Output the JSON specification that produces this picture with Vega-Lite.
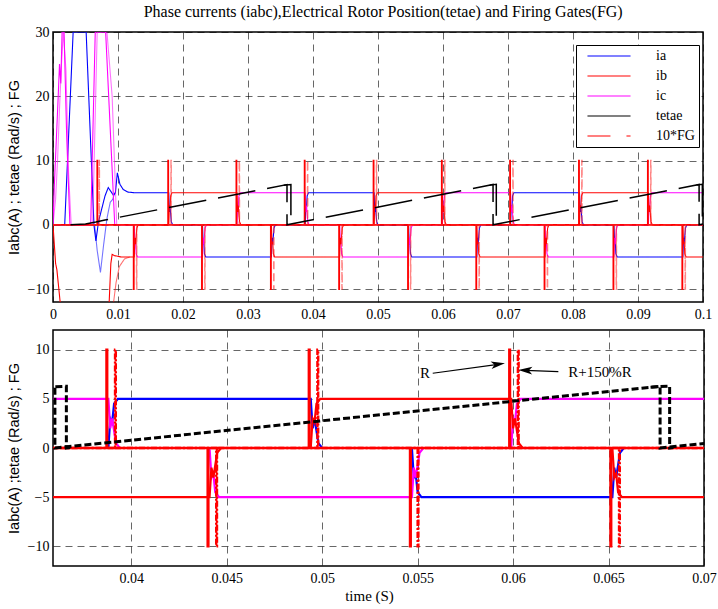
{
"$schema": "https://vega.github.io/schema/vega-lite/v6.json",
"padding": {"left": 5, "top": 4, "right": 2, "bottom": 2},
"title": {"text": "Phase currents (iabc),Electrical Rotor Position(tetae) and Firing Gates(FG)", "font": "Liberation Serif", "fontSize": 16, "fontWeight": "normal", "color": "#000", "anchor": "middle", "offset": 4, "dx": 22},
"config": {
  "view": {"stroke": "#000", "strokeWidth": 1.5},
  "axis": {"grid": true, "gridColor": "#000", "gridDash": [7, 5], "gridWidth": 0.8, "gridOpacity": 0.75, "domain": false, "ticks": false, "labelFont": "Liberation Serif", "labelFontSize": 14, "labelColor": "#000", "labelPadding": 5, "labelFlush": false, "labelOverlap": false, "titleFont": "Liberation Sans", "titleFontSize": 14.5, "titleFontWeight": "normal", "titleColor": "#000"}
},
"datasets": {
"cur": [
{"s":"ia","m":1,"t":0,"v":0},{"s":"ia","m":1,"t":0.0018,"v":0},{"s":"ia","m":1,"t":0.0031,"v":30},{"s":"ia","m":1,"t":0.0051,"v":30},{"s":"ia","m":1,"t":0.0063,"v":0},{"s":"ia","m":1,"t":0.0066,"v":-2.5},{"s":"ia","m":1,"t":0.007,"v":0.5},{"s":"ia","m":1,"t":0.0075,"v":2.5},{"s":"ia","m":1,"t":0.008,"v":4.5},{"s":"ia","m":1,"t":0.0085,"v":5.8},{"s":"ia","m":1,"t":0.0089,"v":5.2},{"s":"ia","m":1,"t":0.0093,"v":4.6},{"s":"ia","m":1,"t":0.0096,"v":5},{"s":"ia","m":1,"t":0.0099,"v":8.1},{"s":"ia","m":1,"t":0.0103,"v":6.3},{"s":"ia","m":1,"t":0.0108,"v":5.5},{"s":"ia","m":1,"t":0.0115,"v":5.1},{"s":"ia","m":1,"t":0.0125,"v":5},
{"s":"ia","m":1,"t":0.0178,"v":5},{"s":"ia","m":1,"t":0.0179,"v":2},{"s":"ia","m":1,"t":0.018,"v":3},{"s":"ia","m":1,"t":0.0182,"v":0.5},{"s":"ia","m":1,"t":0.0184,"v":0},
{"s":"ia","m":1,"t":0.023,"v":0},{"s":"ia","m":1,"t":0.0231,"v":-3},{"s":"ia","m":1,"t":0.0232,"v":-2.6},{"s":"ia","m":1,"t":0.0233,"v":-4.5},{"s":"ia","m":1,"t":0.0235,"v":-5},
{"s":"ia","m":1,"t":0.0336,"v":-5},{"s":"ia","m":1,"t":0.0337,"v":-2},{"s":"ia","m":1,"t":0.0338,"v":-3},{"s":"ia","m":1,"t":0.034,"v":-0.5},{"s":"ia","m":1,"t":0.0342,"v":0},
{"s":"ia","m":1,"t":0.0388,"v":0},{"s":"ia","m":1,"t":0.0389,"v":3},{"s":"ia","m":1,"t":0.039,"v":2.6},{"s":"ia","m":1,"t":0.0391,"v":4.5},{"s":"ia","m":1,"t":0.0393,"v":5},
{"s":"ia","m":1,"t":0.0494,"v":5},{"s":"ia","m":1,"t":0.0495,"v":2},{"s":"ia","m":1,"t":0.0496,"v":3},{"s":"ia","m":1,"t":0.0498,"v":0.5},{"s":"ia","m":1,"t":0.05,"v":0},
{"s":"ia","m":1,"t":0.0547,"v":0},{"s":"ia","m":1,"t":0.0548,"v":-3},{"s":"ia","m":1,"t":0.0549,"v":-2.6},{"s":"ia","m":1,"t":0.055,"v":-4.5},{"s":"ia","m":1,"t":0.0552,"v":-5},
{"s":"ia","m":1,"t":0.0652,"v":-5},{"s":"ia","m":1,"t":0.0653,"v":-2},{"s":"ia","m":1,"t":0.0654,"v":-3},{"s":"ia","m":1,"t":0.0656,"v":-0.5},{"s":"ia","m":1,"t":0.0658,"v":0},
{"s":"ia","m":1,"t":0.0704,"v":0},{"s":"ia","m":1,"t":0.0705,"v":3},{"s":"ia","m":1,"t":0.0706,"v":2.6},{"s":"ia","m":1,"t":0.0707,"v":4.5},{"s":"ia","m":1,"t":0.0709,"v":5},
{"s":"ia","m":1,"t":0.081,"v":5},{"s":"ia","m":1,"t":0.0811,"v":2},{"s":"ia","m":1,"t":0.0812,"v":3},{"s":"ia","m":1,"t":0.0814,"v":0.5},{"s":"ia","m":1,"t":0.0816,"v":0},
{"s":"ia","m":1,"t":0.0863,"v":0},{"s":"ia","m":1,"t":0.0864,"v":-3},{"s":"ia","m":1,"t":0.0865,"v":-2.6},{"s":"ia","m":1,"t":0.0866,"v":-4.5},{"s":"ia","m":1,"t":0.0868,"v":-5},
{"s":"ia","m":1,"t":0.0969,"v":-5},{"s":"ia","m":1,"t":0.097,"v":-2},{"s":"ia","m":1,"t":0.0971,"v":-3},{"s":"ia","m":1,"t":0.0973,"v":-0.5},{"s":"ia","m":1,"t":0.0975,"v":0},
{"s":"ia","m":1,"t":0.1,"v":0},
{"s":"ia","m":2,"t":0.0064,"v":0},{"s":"ia","m":2,"t":0.0068,"v":-4},{"s":"ia","m":2,"t":0.0073,"v":-7.4},{"s":"ia","m":2,"t":0.0078,"v":-3},{"s":"ia","m":2,"t":0.0083,"v":1},{"s":"ia","m":2,"t":0.0088,"v":3.5},{"s":"ia","m":2,"t":0.0092,"v":4},{"s":"ia","m":2,"t":0.0095,"v":5},
{"s":"ic","m":1,"t":0,"v":0},{"s":"ic","m":1,"t":0.0002,"v":6},{"s":"ic","m":1,"t":0.0005,"v":13},{"s":"ic","m":1,"t":0.0008,"v":20},{"s":"ic","m":1,"t":0.001,"v":25},{"s":"ic","m":1,"t":0.0012,"v":22},{"s":"ic","m":1,"t":0.0014,"v":30},{"s":"ic","m":1,"t":0.0017,"v":30},{"s":"ic","m":1,"t":0.0021,"v":14},{"s":"ic","m":1,"t":0.0026,"v":0},{"s":"ic","m":1,"t":0.0058,"v":0},{"s":"ic","m":1,"t":0.0065,"v":30},{"s":"ic","m":1,"t":0.0081,"v":30},{"s":"ic","m":1,"t":0.0095,"v":0},
{"s":"ic","m":1,"t":0.0125,"v":0},{"s":"ic","m":1,"t":0.0126,"v":-3},{"s":"ic","m":1,"t":0.0127,"v":-2.6},{"s":"ic","m":1,"t":0.0128,"v":-4.5},{"s":"ic","m":1,"t":0.013,"v":-5},
{"s":"ic","m":1,"t":0.023,"v":-5},{"s":"ic","m":1,"t":0.0231,"v":-2},{"s":"ic","m":1,"t":0.0232,"v":-3},{"s":"ic","m":1,"t":0.0234,"v":-0.5},{"s":"ic","m":1,"t":0.0236,"v":0},
{"s":"ic","m":1,"t":0.0283,"v":0},{"s":"ic","m":1,"t":0.0284,"v":3},{"s":"ic","m":1,"t":0.0285,"v":2.6},{"s":"ic","m":1,"t":0.0286,"v":4.5},{"s":"ic","m":1,"t":0.0288,"v":5},
{"s":"ic","m":1,"t":0.0388,"v":5},{"s":"ic","m":1,"t":0.0389,"v":2},{"s":"ic","m":1,"t":0.039,"v":3},{"s":"ic","m":1,"t":0.0392,"v":0.5},{"s":"ic","m":1,"t":0.0394,"v":0},
{"s":"ic","m":1,"t":0.0441,"v":0},{"s":"ic","m":1,"t":0.0442,"v":-3},{"s":"ic","m":1,"t":0.0443,"v":-2.6},{"s":"ic","m":1,"t":0.0444,"v":-4.5},{"s":"ic","m":1,"t":0.0446,"v":-5},
{"s":"ic","m":1,"t":0.0547,"v":-5},{"s":"ic","m":1,"t":0.0548,"v":-2},{"s":"ic","m":1,"t":0.0549,"v":-3},{"s":"ic","m":1,"t":0.0551,"v":-0.5},{"s":"ic","m":1,"t":0.0553,"v":0},
{"s":"ic","m":1,"t":0.0599,"v":0},{"s":"ic","m":1,"t":0.06,"v":3},{"s":"ic","m":1,"t":0.0601,"v":2.6},{"s":"ic","m":1,"t":0.0602,"v":4.5},{"s":"ic","m":1,"t":0.0604,"v":5},
{"s":"ic","m":1,"t":0.0704,"v":5},{"s":"ic","m":1,"t":0.0705,"v":2},{"s":"ic","m":1,"t":0.0706,"v":3},{"s":"ic","m":1,"t":0.0708,"v":0.5},{"s":"ic","m":1,"t":0.071,"v":0},
{"s":"ic","m":1,"t":0.0757,"v":0},{"s":"ic","m":1,"t":0.0758,"v":-3},{"s":"ic","m":1,"t":0.0759,"v":-2.6},{"s":"ic","m":1,"t":0.076,"v":-4.5},{"s":"ic","m":1,"t":0.0762,"v":-5},
{"s":"ic","m":1,"t":0.0863,"v":-5},{"s":"ic","m":1,"t":0.0864,"v":-2},{"s":"ic","m":1,"t":0.0865,"v":-3},{"s":"ic","m":1,"t":0.0867,"v":-0.5},{"s":"ic","m":1,"t":0.0869,"v":0},
{"s":"ic","m":1,"t":0.0916,"v":0},{"s":"ic","m":1,"t":0.0917,"v":3},{"s":"ic","m":1,"t":0.0918,"v":2.6},{"s":"ic","m":1,"t":0.0919,"v":4.5},{"s":"ic","m":1,"t":0.0921,"v":5},
{"s":"ic","m":1,"t":0.1,"v":5},
{"s":"ic","m":2,"t":0,"v":0},{"s":"ic","m":2,"t":0.0004,"v":4},{"s":"ic","m":2,"t":0.0007,"v":10},{"s":"ic","m":2,"t":0.001,"v":18},{"s":"ic","m":2,"t":0.0013,"v":25},{"s":"ic","m":2,"t":0.0016,"v":30},{"s":"ic","m":2,"t":0.002,"v":24},{"s":"ic","m":2,"t":0.0024,"v":8},{"s":"ic","m":2,"t":0.0028,"v":0},{"s":"ic","m":2,"t":0.0061,"v":0},{"s":"ic","m":2,"t":0.0068,"v":30},{"s":"ic","m":2,"t":0.0083,"v":30},{"s":"ic","m":2,"t":0.0091,"v":20},{"s":"ic","m":2,"t":0.0098,"v":0},
{"s":"ib","m":1,"t":0,"v":0},{"s":"ib","m":1,"t":0.0002,"v":-3},{"s":"ib","m":1,"t":0.0004,"v":-6},{"s":"ib","m":1,"t":0.0006,"v":-7},{"s":"ib","m":1,"t":0.0009,"v":-10},{"s":"ib","m":1,"t":0.0012,"v":-13},{"s":"ib","m":1,"t":0.0086,"v":-13},{"s":"ib","m":1,"t":0.0089,"v":-6},{"s":"ib","m":1,"t":0.0091,"v":-4.6},{"s":"ib","m":1,"t":0.0095,"v":-4.8},{"s":"ib","m":1,"t":0.0105,"v":-5},
{"s":"ib","m":1,"t":0.0125,"v":-5},{"s":"ib","m":1,"t":0.0126,"v":-2},{"s":"ib","m":1,"t":0.0127,"v":-3},{"s":"ib","m":1,"t":0.0129,"v":-0.5},{"s":"ib","m":1,"t":0.0131,"v":0},
{"s":"ib","m":1,"t":0.0178,"v":0},{"s":"ib","m":1,"t":0.0179,"v":3},{"s":"ib","m":1,"t":0.018,"v":2.6},{"s":"ib","m":1,"t":0.0181,"v":4.5},{"s":"ib","m":1,"t":0.0183,"v":5},
{"s":"ib","m":1,"t":0.0283,"v":5},{"s":"ib","m":1,"t":0.0284,"v":2},{"s":"ib","m":1,"t":0.0285,"v":3},{"s":"ib","m":1,"t":0.0287,"v":0.5},{"s":"ib","m":1,"t":0.0289,"v":0},
{"s":"ib","m":1,"t":0.0336,"v":0},{"s":"ib","m":1,"t":0.0337,"v":-3},{"s":"ib","m":1,"t":0.0338,"v":-2.6},{"s":"ib","m":1,"t":0.0339,"v":-4.5},{"s":"ib","m":1,"t":0.0341,"v":-5},
{"s":"ib","m":1,"t":0.0441,"v":-5},{"s":"ib","m":1,"t":0.0442,"v":-2},{"s":"ib","m":1,"t":0.0443,"v":-3},{"s":"ib","m":1,"t":0.0445,"v":-0.5},{"s":"ib","m":1,"t":0.0447,"v":0},
{"s":"ib","m":1,"t":0.0494,"v":0},{"s":"ib","m":1,"t":0.0495,"v":3},{"s":"ib","m":1,"t":0.0496,"v":2.6},{"s":"ib","m":1,"t":0.0497,"v":4.5},{"s":"ib","m":1,"t":0.0499,"v":5},
{"s":"ib","m":1,"t":0.0599,"v":5},{"s":"ib","m":1,"t":0.06,"v":2},{"s":"ib","m":1,"t":0.0601,"v":3},{"s":"ib","m":1,"t":0.0603,"v":0.5},{"s":"ib","m":1,"t":0.0605,"v":0},
{"s":"ib","m":1,"t":0.0652,"v":0},{"s":"ib","m":1,"t":0.0653,"v":-3},{"s":"ib","m":1,"t":0.0654,"v":-2.6},{"s":"ib","m":1,"t":0.0655,"v":-4.5},{"s":"ib","m":1,"t":0.0657,"v":-5},
{"s":"ib","m":1,"t":0.0757,"v":-5},{"s":"ib","m":1,"t":0.0758,"v":-2},{"s":"ib","m":1,"t":0.0759,"v":-3},{"s":"ib","m":1,"t":0.0761,"v":-0.5},{"s":"ib","m":1,"t":0.0763,"v":0},
{"s":"ib","m":1,"t":0.081,"v":0},{"s":"ib","m":1,"t":0.0811,"v":3},{"s":"ib","m":1,"t":0.0812,"v":2.6},{"s":"ib","m":1,"t":0.0813,"v":4.5},{"s":"ib","m":1,"t":0.0815,"v":5},
{"s":"ib","m":1,"t":0.0916,"v":5},{"s":"ib","m":1,"t":0.0917,"v":2},{"s":"ib","m":1,"t":0.0918,"v":3},{"s":"ib","m":1,"t":0.092,"v":0.5},{"s":"ib","m":1,"t":0.0922,"v":0},
{"s":"ib","m":1,"t":0.0969,"v":0},{"s":"ib","m":1,"t":0.097,"v":-3},{"s":"ib","m":1,"t":0.0971,"v":-2.6},{"s":"ib","m":1,"t":0.0972,"v":-4.5},{"s":"ib","m":1,"t":0.0974,"v":-5},
{"s":"ib","m":1,"t":0.1,"v":-5},
{"s":"ib","m":2,"t":0.0092,"v":-13},{"s":"ib","m":2,"t":0.0097,"v":-9},{"s":"ib","m":2,"t":0.0102,"v":-6.5},{"s":"ib","m":2,"t":0.011,"v":-5.3},{"s":"ib","m":2,"t":0.0118,"v":-5}
],
"fg": [
{"m":1,"t":0,"v":0},
{"m":1,"t":0.0068,"v":0},{"m":1,"t":0.0068,"v":10},{"m":1,"t":0.00684,"v":10},{"m":1,"t":0.00684,"v":0},
{"m":1,"t":0.0124,"v":0},{"m":1,"t":0.0124,"v":-10},{"m":1,"t":0.01244,"v":-10},{"m":1,"t":0.01244,"v":0},
{"m":1,"t":0.0177,"v":0},{"m":1,"t":0.0177,"v":10},{"m":1,"t":0.01774,"v":10},{"m":1,"t":0.01774,"v":0},
{"m":1,"t":0.0229,"v":0},{"m":1,"t":0.0229,"v":-10},{"m":1,"t":0.02294,"v":-10},{"m":1,"t":0.02294,"v":0},
{"m":1,"t":0.0282,"v":0},{"m":1,"t":0.0282,"v":10},{"m":1,"t":0.02824,"v":10},{"m":1,"t":0.02824,"v":0},
{"m":1,"t":0.0335,"v":0},{"m":1,"t":0.0335,"v":-10},{"m":1,"t":0.03354,"v":-10},{"m":1,"t":0.03354,"v":0},
{"m":1,"t":0.0387,"v":0},{"m":1,"t":0.0387,"v":10},{"m":1,"t":0.03874,"v":10},{"m":1,"t":0.03874,"v":0},
{"m":1,"t":0.044,"v":0},{"m":1,"t":0.044,"v":-10},{"m":1,"t":0.04404,"v":-10},{"m":1,"t":0.04404,"v":0},
{"m":1,"t":0.0493,"v":0},{"m":1,"t":0.0493,"v":10},{"m":1,"t":0.04934,"v":10},{"m":1,"t":0.04934,"v":0},
{"m":1,"t":0.0546,"v":0},{"m":1,"t":0.0546,"v":-10},{"m":1,"t":0.05464,"v":-10},{"m":1,"t":0.05464,"v":0},
{"m":1,"t":0.0598,"v":0},{"m":1,"t":0.0598,"v":10},{"m":1,"t":0.05984,"v":10},{"m":1,"t":0.05984,"v":0},
{"m":1,"t":0.0651,"v":0},{"m":1,"t":0.0651,"v":-10},{"m":1,"t":0.06514,"v":-10},{"m":1,"t":0.06514,"v":0},
{"m":1,"t":0.0703,"v":0},{"m":1,"t":0.0703,"v":10},{"m":1,"t":0.07034,"v":10},{"m":1,"t":0.07034,"v":0},
{"m":1,"t":0.0756,"v":0},{"m":1,"t":0.0756,"v":-10},{"m":1,"t":0.07564,"v":-10},{"m":1,"t":0.07564,"v":0},
{"m":1,"t":0.0809,"v":0},{"m":1,"t":0.0809,"v":10},{"m":1,"t":0.08094,"v":10},{"m":1,"t":0.08094,"v":0},
{"m":1,"t":0.0862,"v":0},{"m":1,"t":0.0862,"v":-10},{"m":1,"t":0.08624,"v":-10},{"m":1,"t":0.08624,"v":0},
{"m":1,"t":0.0915,"v":0},{"m":1,"t":0.0915,"v":10},{"m":1,"t":0.09154,"v":10},{"m":1,"t":0.09154,"v":0},
{"m":1,"t":0.0968,"v":0},{"m":1,"t":0.0968,"v":-10},{"m":1,"t":0.09684,"v":-10},{"m":1,"t":0.09684,"v":0},
{"m":1,"t":0.1,"v":0},
{"m":2,"t":0,"v":0},
{"m":2,"t":0.0071,"v":0},{"m":2,"t":0.0071,"v":10},{"m":2,"t":0.00714,"v":10},{"m":2,"t":0.00714,"v":0},
{"m":2,"t":0.01285,"v":0},{"m":2,"t":0.01285,"v":-10},{"m":2,"t":0.01289,"v":-10},{"m":2,"t":0.01289,"v":0},
{"m":2,"t":0.01815,"v":0},{"m":2,"t":0.01815,"v":10},{"m":2,"t":0.01819,"v":10},{"m":2,"t":0.01819,"v":0},
{"m":2,"t":0.02335,"v":0},{"m":2,"t":0.02335,"v":-10},{"m":2,"t":0.02339,"v":-10},{"m":2,"t":0.02339,"v":0},
{"m":2,"t":0.02865,"v":0},{"m":2,"t":0.02865,"v":10},{"m":2,"t":0.02869,"v":10},{"m":2,"t":0.02869,"v":0},
{"m":2,"t":0.03395,"v":0},{"m":2,"t":0.03395,"v":-10},{"m":2,"t":0.03399,"v":-10},{"m":2,"t":0.03399,"v":0},
{"m":2,"t":0.03915,"v":0},{"m":2,"t":0.03915,"v":10},{"m":2,"t":0.03919,"v":10},{"m":2,"t":0.03919,"v":0},
{"m":2,"t":0.04445,"v":0},{"m":2,"t":0.04445,"v":-10},{"m":2,"t":0.04449,"v":-10},{"m":2,"t":0.04449,"v":0},
{"m":2,"t":0.04975,"v":0},{"m":2,"t":0.04975,"v":10},{"m":2,"t":0.04979,"v":10},{"m":2,"t":0.04979,"v":0},
{"m":2,"t":0.055,"v":0},{"m":2,"t":0.055,"v":-10},{"m":2,"t":0.05504,"v":-10},{"m":2,"t":0.05504,"v":0},
{"m":2,"t":0.06025,"v":0},{"m":2,"t":0.06025,"v":10},{"m":2,"t":0.06029,"v":10},{"m":2,"t":0.06029,"v":0},
{"m":2,"t":0.06555,"v":0},{"m":2,"t":0.06555,"v":-10},{"m":2,"t":0.06559,"v":-10},{"m":2,"t":0.06559,"v":0},
{"m":2,"t":0.07075,"v":0},{"m":2,"t":0.07075,"v":10},{"m":2,"t":0.07079,"v":10},{"m":2,"t":0.07079,"v":0},
{"m":2,"t":0.07605,"v":0},{"m":2,"t":0.07605,"v":-10},{"m":2,"t":0.07609,"v":-10},{"m":2,"t":0.07609,"v":0},
{"m":2,"t":0.08135,"v":0},{"m":2,"t":0.08135,"v":10},{"m":2,"t":0.08139,"v":10},{"m":2,"t":0.08139,"v":0},
{"m":2,"t":0.08665,"v":0},{"m":2,"t":0.08665,"v":-10},{"m":2,"t":0.08669,"v":-10},{"m":2,"t":0.08669,"v":0},
{"m":2,"t":0.09195,"v":0},{"m":2,"t":0.09195,"v":10},{"m":2,"t":0.09199,"v":10},{"m":2,"t":0.09199,"v":0},
{"m":2,"t":0.09725,"v":0},{"m":2,"t":0.09725,"v":-10},{"m":2,"t":0.09729,"v":-10},{"m":2,"t":0.09729,"v":0},
{"m":2,"t":0.1,"v":0}
],
"tet": [
{"n":1,"t":0.0027,"v":0},{"n":1,"t":0.005,"v":0.15},{"n":1,"t":0.0066,"v":0.45},{"n":1,"t":0.008,"v":0.75},{"n":1,"t":0.0091,"v":0.97},{"n":1,"t":0.036,"v":6.26},{"n":1,"t":0.036,"v":0},{"n":1,"t":0.0677,"v":6.28},{"n":1,"t":0.0677,"v":0},{"n":1,"t":0.0994,"v":6.28},{"n":1,"t":0.0994,"v":0},{"n":1,"t":0.1,"v":0.12},
{"n":2,"t":0.0355,"v":6.16},{"n":2,"t":0.0366,"v":6.28},{"n":2,"t":0.0366,"v":0},{"n":2,"t":0.0368,"v":0.04},
{"n":3,"t":0.0672,"v":6.18},{"n":3,"t":0.0682,"v":6.3},{"n":3,"t":0.0682,"v":0},{"n":3,"t":0.0684,"v":0.04},
{"n":4,"t":0.099,"v":6.2},{"n":4,"t":0.0999,"v":6.3},{"n":4,"t":0.0999,"v":0},{"n":4,"t":0.1,"v":0.02}
],
"ann": [{"label":"R","t":0.05539,"v":7.58},{"label":"R+150%R","t":0.06455,"v":7.73}],
"arr": [{"id":1,"t":0.05579,"v":7.6,"t2":0.05921,"v2":8.51},{"id":2,"t":0.06237,"v":7.76,"t2":0.06064,"v2":7.9}]
},
"spacing": 7,
"resolve": {"scale": {"color": "independent", "strokeDash": "independent", "opacity": "independent", "strokeWidth": "independent"}},
"vconcat": [
{
"width": 650, "height": 270,
"encoding": {
  "x": {"field": "t", "type": "quantitative", "scale": {"domain": [0, 0.1], "nice": false, "zero": false}, "axis": {"values": [0,0.01,0.02,0.03,0.04,0.05,0.06,0.07,0.08,0.09,0.1], "format": "~g", "title": null}},
  "y": {"field": "v", "type": "quantitative", "scale": {"domain": [-12, 30], "nice": false}, "axis": {"values": [-10,0,10,20,30], "title": "Iabc(A) ; tetae (Rad/s) ; FG", "titlePadding": 6, "labelPadding": 4}}
},
"layer": [
{"data": {"name": "cur"}, "mark": {"type": "line", "clip": true, "strokeWidth": 1.1},
 "encoding": {
  "color": {"field": "s", "type": "nominal", "scale": {"domain": ["ia","ib","ic","tetae","10*FG"], "range": ["#0000ff","#ff0000","#ff00ff","#000000","#ff0000"]},
    "legend": {"title": null, "orient": "none", "legendX": 523, "legendY": 13, "symbolType": "M-4,0H4", "symbolSize": 116, "symbolStrokeWidth": 1.2, "symbolOffset": 22, "labelOffset": 40, "labelFont": "Liberation Serif", "labelFontSize": 14, "labelColor": "#000", "strokeColor": "#000", "fillColor": "#fff", "padding": 4, "rowPadding": 6}},
  "strokeDash": {"field": "s", "type": "nominal", "scale": {"domain": ["ia","ib","ic","tetae","10*FG"], "range": [[1,0],[1,0],[1,0],[1,0],[23,16]]},
    "legend": {"title": null, "orient": "none", "legendX": 523, "legendY": 13, "symbolType": "M-4,0H4", "symbolSize": 116, "symbolStrokeWidth": 1.2, "symbolOffset": 22, "labelOffset": 40, "labelFont": "Liberation Serif", "labelFontSize": 14, "labelColor": "#000", "strokeColor": "#000", "fillColor": "#fff", "padding": 4, "rowPadding": 6}},
  "opacity": {"field": "m", "type": "nominal", "scale": {"domain": [1, 2], "range": [1, 0.55]}, "legend": null},
  "order": {"value": null}
 }},
{"data": {"name": "fg"}, "transform": [{"filter": "datum.m == 1"}], "mark": {"type": "line", "clip": true, "strokeWidth": 1.6, "color": "#ff0000"}, "encoding": {"order": {"value": null}}},
{"data": {"name": "fg"}, "transform": [{"filter": "datum.m == 2"}], "mark": {"type": "line", "clip": true, "strokeWidth": 1.4, "color": "#ff3030", "opacity": 0.6, "strokeDash": [8, 4]}, "encoding": {"order": {"value": null}}},
{"data": {"name": "tet"}, "mark": {"type": "line", "clip": true, "strokeWidth": 1.5, "color": "#000", "strokeDash": [38, 12]}, "encoding": {"detail": {"field": "n"}, "order": {"value": null}}}
]
},
{
"width": 651, "height": 236,
"encoding": {
  "x": {"field": "t", "type": "quantitative", "scale": {"domain": [0.0359, 0.07], "nice": false, "zero": false}, "axis": {"values": [0.04,0.045,0.05,0.055,0.06,0.065,0.07], "format": "~g", "title": "time (S)", "titleFont": "Liberation Serif", "titleFontSize": 15, "titlePadding": 3, "titleX": 316}},
  "y": {"field": "v", "type": "quantitative", "scale": {"domain": [-12, 12], "nice": false}, "axis": {"values": [-10,-5,0,5,10], "title": "Iabc(A) ;tetae (Rad/s) ; FG", "titlePadding": 6, "labelPadding": 4}}
},
"layer": [
{"data": {"name": "cur"}, "mark": {"type": "line", "clip": true},
 "encoding": {
  "color": {"field": "s", "type": "nominal", "scale": {"domain": ["ia","ib","ic","tetae","10*FG"], "range": ["#0000ff","#ff0000","#ff00ff","#000000","#ff0000"]}, "legend": null},
  "strokeWidth": {"field": "m", "type": "nominal", "scale": {"domain": [1, 2], "range": [2.2, 1]}, "legend": null},
  "order": {"value": null}
 }},
{"data": {"name": "fg"}, "transform": [{"filter": "datum.m == 1"}], "mark": {"type": "line", "clip": true, "strokeWidth": 2.4, "color": "#ff0000"}, "encoding": {"order": {"value": null}}},
{"data": {"name": "fg"}, "transform": [{"filter": "datum.m == 2"}], "mark": {"type": "line", "clip": true, "strokeWidth": 2.4, "color": "#ff0000", "strokeDash": [6, 2, 2, 2]}, "encoding": {"order": {"value": null}}},
{"data": {"name": "tet"}, "mark": {"type": "line", "clip": true, "strokeWidth": 3, "color": "#000", "strokeDash": [7, 3]}, "encoding": {"detail": {"field": "n"}, "order": {"value": null}}},
{"data": {"name": "arr"}, "mark": {"type": "rule", "color": "#000", "strokeWidth": 1.2}, "encoding": {"x2": {"field": "t2"}, "y2": {"field": "v2"}}},
{"data": {"name": "arr"}, "transform": [{"filter": "datum.id == 1"}], "mark": {"type": "point", "filled": true, "color": "#000", "opacity": 1, "shape": "M1,0L-1,-0.55L-0.5,0L-1,0.55Z", "size": 196, "angle": 352}, "encoding": {"x": {"field": "t2", "type": "quantitative"}, "y": {"field": "v2", "type": "quantitative"}}},
{"data": {"name": "arr"}, "transform": [{"filter": "datum.id == 2"}], "mark": {"type": "point", "filled": true, "color": "#000", "opacity": 1, "shape": "M1,0L-1,-0.55L-0.5,0L-1,0.55Z", "size": 196, "angle": 182}, "encoding": {"x": {"field": "t2", "type": "quantitative"}, "y": {"field": "v2", "type": "quantitative"}}},
{"data": {"name": "ann"}, "mark": {"type": "text", "font": "Liberation Serif", "fontSize": 15, "color": "#000", "align": "center", "baseline": "middle"}, "encoding": {"text": {"field": "label"}}}
]
}
]
}
